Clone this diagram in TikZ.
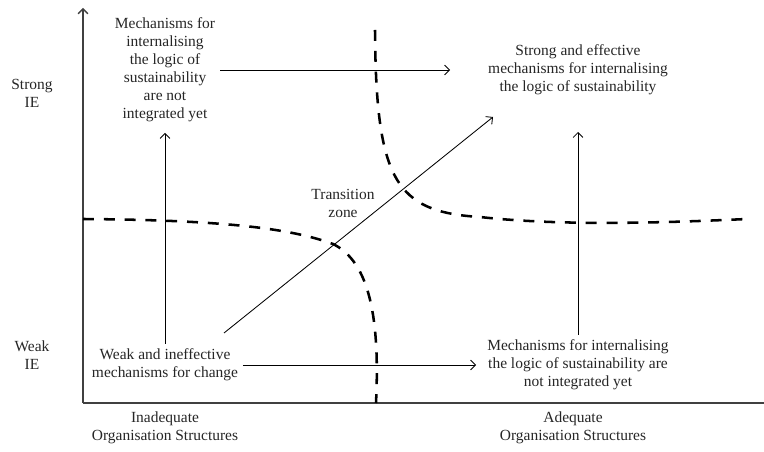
\documentclass[tikz,border=0pt]{standalone}
\usepackage{fontspec}
\setmainfont{Liberation Serif}
\usetikzlibrary{arrows.meta}

\begin{document}
\begin{tikzpicture}[
    x=0.025cm, y=-0.025cm,
    txt/.style={align=center, font=\fontsize{11}{12.8}\selectfont, text=black!85},
    arrow/.style={-{Straight Barb[length=3.5pt,width=7pt]}, line width=0.6pt},
    axis/.style={line width=0.9pt, draw=black!75},
    boundary/.style={line width=1.8pt, dash pattern=on 7.8pt off 7pt}
]
\useasboundingbox (0,0) rectangle (764,452);

% Axes
\coordinate (o) at (83,403);
\coordinate (ytop) at (83,8);
\coordinate (xend) at (764,403);
\draw[axis, -{Straight Barb[length=3.5pt,width=7pt]}] (o) -- (ytop);
\draw[axis] (o) -- (xend);

% Axis labels
\node[txt] (strong) at (32,93) {Strong\\IE};
\node[txt] (weak) at (32,355) {Weak\\IE};
\node[txt] (inadequate) at (165,428) {Inadequate\\Organisation Structures};
\node[txt] (adequate) at (573,428) {Adequate\\Organisation Structures};

% Quadrant texts
\node[txt] (tl) at (165,70) {Mechanisms for\\internalising\\the logic of\\sustainability\\are not\\integrated yet};
\node[txt] (tr) at (578,70) {Strong and effective\\mechanisms for internalising\\the logic of sustainability};
\node[txt] (bl) at (165,365) {Weak and ineffective\\mechanisms for change};
\node[txt] (br) at (578,365) {Mechanisms for internalising\\the logic of sustainability are\\not integrated yet};
\node[txt] (zone) at (343,203) {Transition\\zone};

% Free arrow ends
\coordinate (top-in) at (450,70);
\coordinate (bot-in) at (476,365);
\coordinate (left-in) at (165,133);
\coordinate (right-in) at (578,132);
\coordinate (diag-from) at (224,333);
\coordinate (diag-to) at (493,117);

% Arrows
\draw[arrow] (tl) -- (top-in);
\draw[arrow] (bl) -- (bot-in);
\draw[arrow] (bl) -- (left-in);
\draw[arrow] (br) -- (right-in);
\draw[arrow] (diag-from) -- (diag-to);

% Boundaries of the transition zone
\draw[boundary] (83,219) .. controls (220,220) and (290,228) .. (333,244)
    .. controls (370,262) and (380,320) .. (376,403);
\draw[boundary] (375,30) .. controls (376,180) and (395,212) .. (480,217)
    .. controls (560,226) and (660,223) .. (747,219);

\end{tikzpicture}
\end{document}
